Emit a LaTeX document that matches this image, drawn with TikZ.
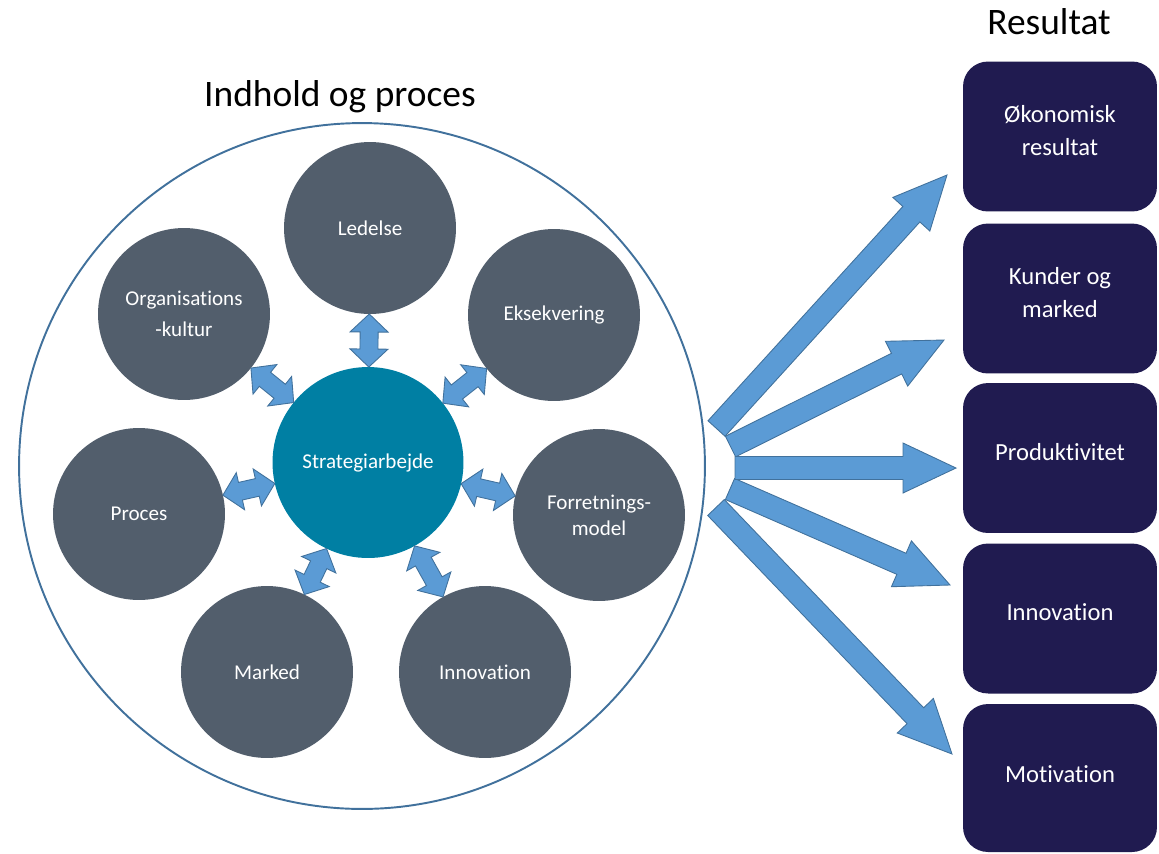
\documentclass[tikz,border=0pt]{standalone}
\usepackage{fontspec}
\setmainfont{Carlito}[RawFeature={-liga;-calt;-clig}]
\usetikzlibrary{calc}
\definecolor{circgray}{RGB}{82,94,108}
\definecolor{tealc}{RGB}{0,127,163}
\definecolor{arrfill}{RGB}{91,155,213}
\definecolor{arrdraw}{RGB}{65,113,156}
\definecolor{boxc}{RGB}{32,27,80}
\definecolor{ringc}{RGB}{65,113,156}
\tikzset{
  gc/.style={circle, fill=circgray, text=white, minimum size=3.44cm, inner sep=0pt, align=center, font=\fontsize{12}{18}\selectfont},
  tc/.style={circle, fill=tealc, text=white, minimum size=3.82cm, inner sep=0pt, align=center, font=\fontsize{12}{18}\selectfont},
  ringstyle/.style={circle, draw=ringc, line width=1.1pt, minimum size=13.72cm, inner sep=0pt},
  rbox/.style={rectangle, rounded corners=0.5cm, fill=boxc, minimum width=3.88cm, minimum height=3.0cm, inner sep=0pt},
  boxtext/.style={text=white, align=center, inner sep=0pt, font=\fontsize{14}{19}\selectfont},
  titlestyle/.style={font=\fontsize{21.3}{25}\selectfont, text=black, inner sep=0pt},
  smallarr/.style={fill=arrfill, draw=arrdraw, line width=0.5pt, line join=miter},
  bigarr/.style={fill=arrfill, draw=arrdraw, line width=0.5pt, line join=miter},
}
\newcommand\dblarrow[2]{%
  \draw[smallarr] let \p1=($(#1)!1.91cm!(#2)$), \p2=($(#2)!1.72cm!(#1)$),
    \n1={atan2(\y2-\y1,\x2-\x1)}, \n2={veclen(\x2-\x1,\y2-\y1)} in
    {[shift={(\p1)},rotate=\n1]
      (0pt,0pt) -- (0.36cm,0.38cm) -- (0.36cm,0.18cm) -- (\n2-0.36cm,0.18cm) -- (\n2-0.36cm,0.38cm)
      -- (\n2,0pt) -- (\n2-0.36cm,-0.38cm) -- (\n2-0.36cm,-0.18cm) -- (0.36cm,-0.18cm) -- (0.36cm,-0.38cm) -- cycle};}
\newcommand\bigarrow[2]{%
  \draw[bigarr] let \p1=(#1), \p2=(#2),
    \n1={atan2(\y2-\y1,\x2-\x1)}, \n2={veclen(\x2-\x1,\y2-\y1)} in
    {[shift={(\p1)},rotate=\n1]
      (0pt,-0.23cm) -- (\n2-1.06cm,-0.23cm) -- (\n2-1.06cm,-0.5cm) -- (\n2,0pt)
      -- (\n2-1.06cm,0.5cm) -- (\n2-1.06cm,0.23cm) -- (0pt,0.23cm) -- cycle};}
\begin{document}
\begin{tikzpicture}[x=0.02cm,y=-0.02cm]
\useasboundingbox (0,0) rectangle (1159,853);
% titles
\node[titlestyle] (title1) at (340,97) {Indhold og proces};
\node[titlestyle] (title2) at (1049,22) {Resultat};
% ring
\node[ringstyle] (ring) at (362,466) {};
% centre
\node[tc] (s) at (368,462.5) {Strategiarbejde};
% outer circles
\node[gc] (led) at (370,228) {Ledelse};
\node[gc] (eks) at (554,315) {Eksekvering};
\node[gc, font=\fontsize{12}{15}\selectfont] (for) at (599,515) {Forretnings-\\model};
\node[gc] (inn) at (485,672) {Innovation};
\node[gc] (mar) at (267,672) {Marked};
\node[gc] (pro) at (139,514) {Proces};
\node[gc] (org) at (184,314) {Organisations\\-kultur};
% double arrows
\dblarrow{s}{led}
\dblarrow{s}{eks}
\dblarrow{s}{for}
\dblarrow{s}{inn}
\dblarrow{s}{mar}
\dblarrow{s}{pro}
\dblarrow{s}{org}
% result boxes
\node[rbox] (b1) at (1060,136.5) {};
\node[rbox] (b2) at (1060,298.5) {};
\node[rbox] (b3) at (1060,458) {};
\node[rbox] (b4) at (1060,618.5) {};
\node[rbox, minimum height=2.96cm] (b5) at (1060,778) {};
\node[boxtext] (b1t) at ($(b1)+(0,-6)$) {Økonomisk\\resultat};
\node[boxtext] (b2t) at ($(b2)+(0,-6)$) {Kunder og\\marked};
\node[boxtext] (b3t) at ($(b3)+(0,-6)$) {Produktivitet};
\node[boxtext] (b4t) at ($(b4)+(0,-6)$) {Innovation};
\node[boxtext] (b5t) at ($(b5)+(0,-4)$) {Motivation};
% fan arrows
\coordinate (f1) at (716.5,428.5);
\coordinate (f2) at (730.5,446.5);
\coordinate (f3) at (735,468);
\coordinate (f4) at (730,489);
\coordinate (f5) at (716,507.5);
\coordinate (t1) at (947,175);
\coordinate (t2) at (944,340);
\coordinate (t3) at (956,468);
\coordinate (t4) at (950,585);
\coordinate (t5) at (952,754);
\bigarrow{f1}{t1}
\bigarrow{f5}{t5}
\bigarrow{f2}{t2}
\bigarrow{f4}{t4}
\bigarrow{f3}{t3}
\end{tikzpicture}
\end{document}
